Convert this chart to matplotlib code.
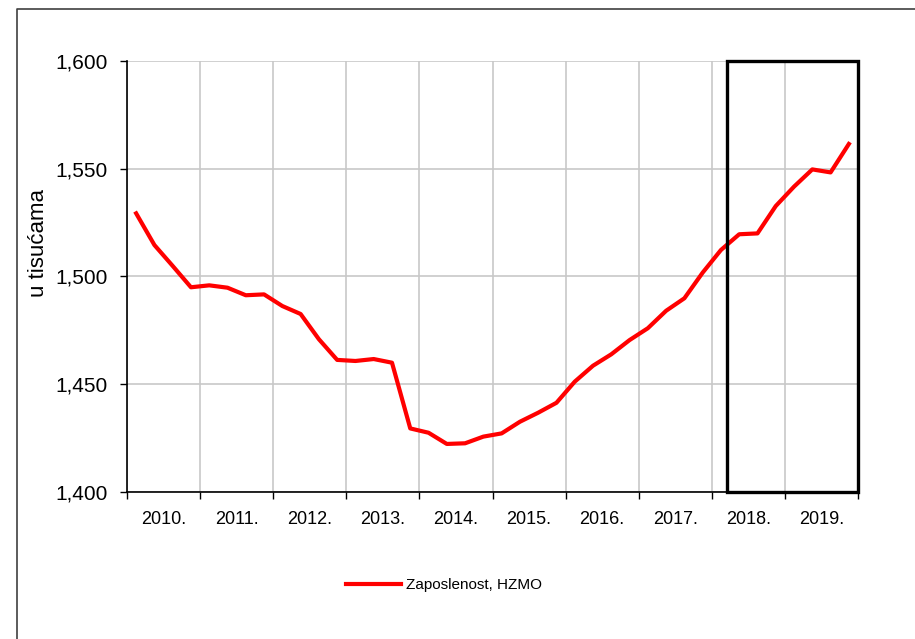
import matplotlib
matplotlib.use("Agg")
import matplotlib.pyplot as plt
from matplotlib.patches import Rectangle
from matplotlib.lines import Line2D

plt.rcParams['font.family'] = ['Liberation Sans', 'DejaVu Sans']

# ---- data (quarterly, 2010Q1 - 2019Q4, thousands) ----
years = [2010, 2011, 2012, 2013, 2014, 2015, 2016, 2017, 2018, 2019]
year_labels = ["2010.", "2011.", "2012.", "2013.", "2014.", "2015.", "2016.", "2017.", "2018.", "2019."]
employment = [1529.3, 1514.6, 1504.9, 1495.0,
              1495.9, 1494.8, 1491.3, 1491.7,
              1486.3, 1482.6, 1470.9, 1461.3,
              1460.8, 1461.7, 1460.0, 1429.5,
              1427.5, 1422.3, 1422.6, 1425.7,
              1427.2, 1432.6, 1436.8, 1441.4,
              1451.2, 1458.6, 1463.9, 1470.5,
              1476.0, 1484.1, 1489.9, 1501.8,
              1512.3, 1519.6, 1520.0, 1532.7,
              1541.7, 1549.7, 1548.3, 1561.5]
series_name = "Zaposlenost, HZMO"
y_ticks = [1400, 1450, 1500, 1550, 1600]
y_tick_labels = ["1,400", "1,450", "1,500", "1,550", "1,600"]
box_start = 2018.21
box_end = 2020.0

x_vals = [years[0] + (i + 0.5) / 4 for i in range(len(employment))]

W, H = 915, 639
fig = plt.figure(figsize=(W / 100, H / 100), dpi=100)
ax = fig.add_axes([127 / W, 1 - 492 / H, (858 - 127) / W, (492 - 61) / H])

ax.set_xlim(years[0], years[-1] + 1)
ax.set_ylim(y_ticks[0], y_ticks[-1])

line, = ax.plot(x_vals, employment, color='#ff0000', lw=3, solid_joinstyle='round',
                label=series_name, zorder=3)

# ticks
major_x = list(range(years[0], years[-1] + 2))
ax.set_xticks(major_x)
ax.set_xticklabels([''] * len(major_x))
ax.set_xticks([y + 0.5 for y in years], minor=True)
ax.set_xticklabels(year_labels, minor=True, fontsize=13)
ax.tick_params(axis='x', which='major', direction='out', length=5, width=1, color='black')
ax.tick_params(axis='x', which='minor', length=0, pad=13.5)
ax.set_yticks(y_ticks)
ax.set_yticklabels(y_tick_labels, fontsize=15)
ax.tick_params(axis='y', direction='out', length=5, width=1, pad=9, color='black')

ax.grid(True, which='major', color='#c8c8c8', lw=1.2, zorder=0)
ax.set_axisbelow(True)
for s in ['top', 'right']:
    ax.spines[s].set_visible(False)
for s in ['left', 'bottom']:
    ax.spines[s].set_color('black')
    ax.spines[s].set_linewidth(1.2)

# highlight box
rect = Rectangle((box_start, y_ticks[0]), box_end - box_start, y_ticks[-1] - y_ticks[0],
                 fill=False, edgecolor='black', lw=2.4, clip_on=False, zorder=4)
ax.add_patch(rect)

# y label
fig.text(38 / W, 1 - 243 / H, "u tisućama", rotation=90, fontsize=16,
         ha='center', va='center')

# legend
fig.legend(handles=[line], labels=[series_name], loc='center',
           bbox_to_anchor=(444 / W, 1 - 585 / H), frameon=False, fontsize=11,
           handlelength=3.6, handletextpad=0.3)

# outer chart frame (left and top)
fig.add_artist(Line2D([17 / W, 17 / W, 1.0], [0.0, 1 - 9 / H, 1 - 9 / H],
                      transform=fig.transFigure, color='#404040', lw=1.2))

fig.savefig("out.png", dpi=100)
